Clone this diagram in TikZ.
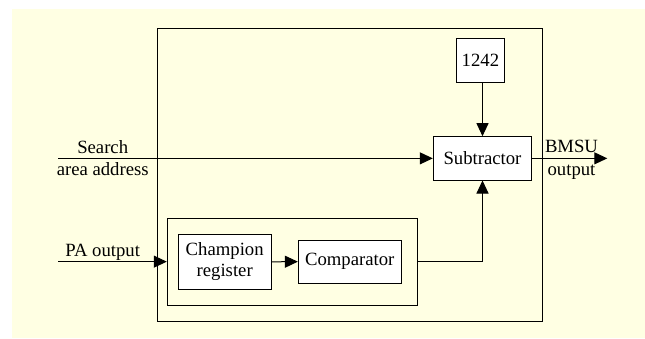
\documentclass[tikz,border=0pt]{standalone}
\usepackage{fontspec}
\setmainfont{Liberation Serif}
\usepackage{xcolor}
\usetikzlibrary{arrows.meta,positioning,calc}

\definecolor{paper}{RGB}{255,255,227}

\begin{document}
\begin{tikzpicture}[
  x=1pt,y=-1pt,
  font=\fontsize{18.7}{21}\selectfont,
  >={Triangle[length=13pt,width=12pt]},
  line width=1pt,
  blk/.style={draw,fill=white,inner sep=0pt,align=center},
  frame/.style={draw,inner sep=0pt},
  lbl/.style={inner sep=0pt,anchor=base}
]
\useasboundingbox (0,0) rectangle (645,338);
\fill[paper] (12,9) rectangle (645,338);

% unit frames
\node[frame,minimum width=385.3pt,minimum height=292.7pt] (unit) at (349.65,174.65) {};
\node[frame,minimum width=250.4pt,minimum height=86.7pt] (grp) at (292.5,261.65) {};

% blocks
\node[blk,minimum width=48.7pt,minimum height=44pt] (num) at (480.4,60.3) {1242};
\node[blk,minimum width=98.4pt,minimum height=43.3pt] (sub) at (482.5,158.35) {Subtractor};
\node[blk,minimum width=92.7pt,minimum height=55pt] (champ) at (224.7,261.8) {Champion\\register};
\node[blk,minimum width=102.7pt,minimum height=43.3pt] (comp) at (349.7,261.65) {Comparator};

% inputs and output
\coordinate (srch) at (58.3,158.35);
\coordinate (pain) at (58.3,261.65);
\coordinate (out) at (607.3,158.35);
\node[lbl] (srchA) at (102.7,153.3) {Search};
\node[lbl] (srchB) at (102.7,175) {area address};
\node[lbl] (palbl) at (102.7,256.7) {PA output};
\node[lbl] (outA) at (571.5,152.3) {BMSU};
\node[lbl] (outB) at (571.5,175) {output};

% connectors
\draw[->] (srch) -- (sub.west);
\draw[->] (pain) -- (grp.west);
\draw[->] (num.south -| sub.north) -- (sub.north);
\draw[->] (champ.east) -- (comp.west);
\draw[->] (grp.east) -| (sub.south);
\draw[->] (sub.east) -- (out);
\end{tikzpicture}
\end{document}
